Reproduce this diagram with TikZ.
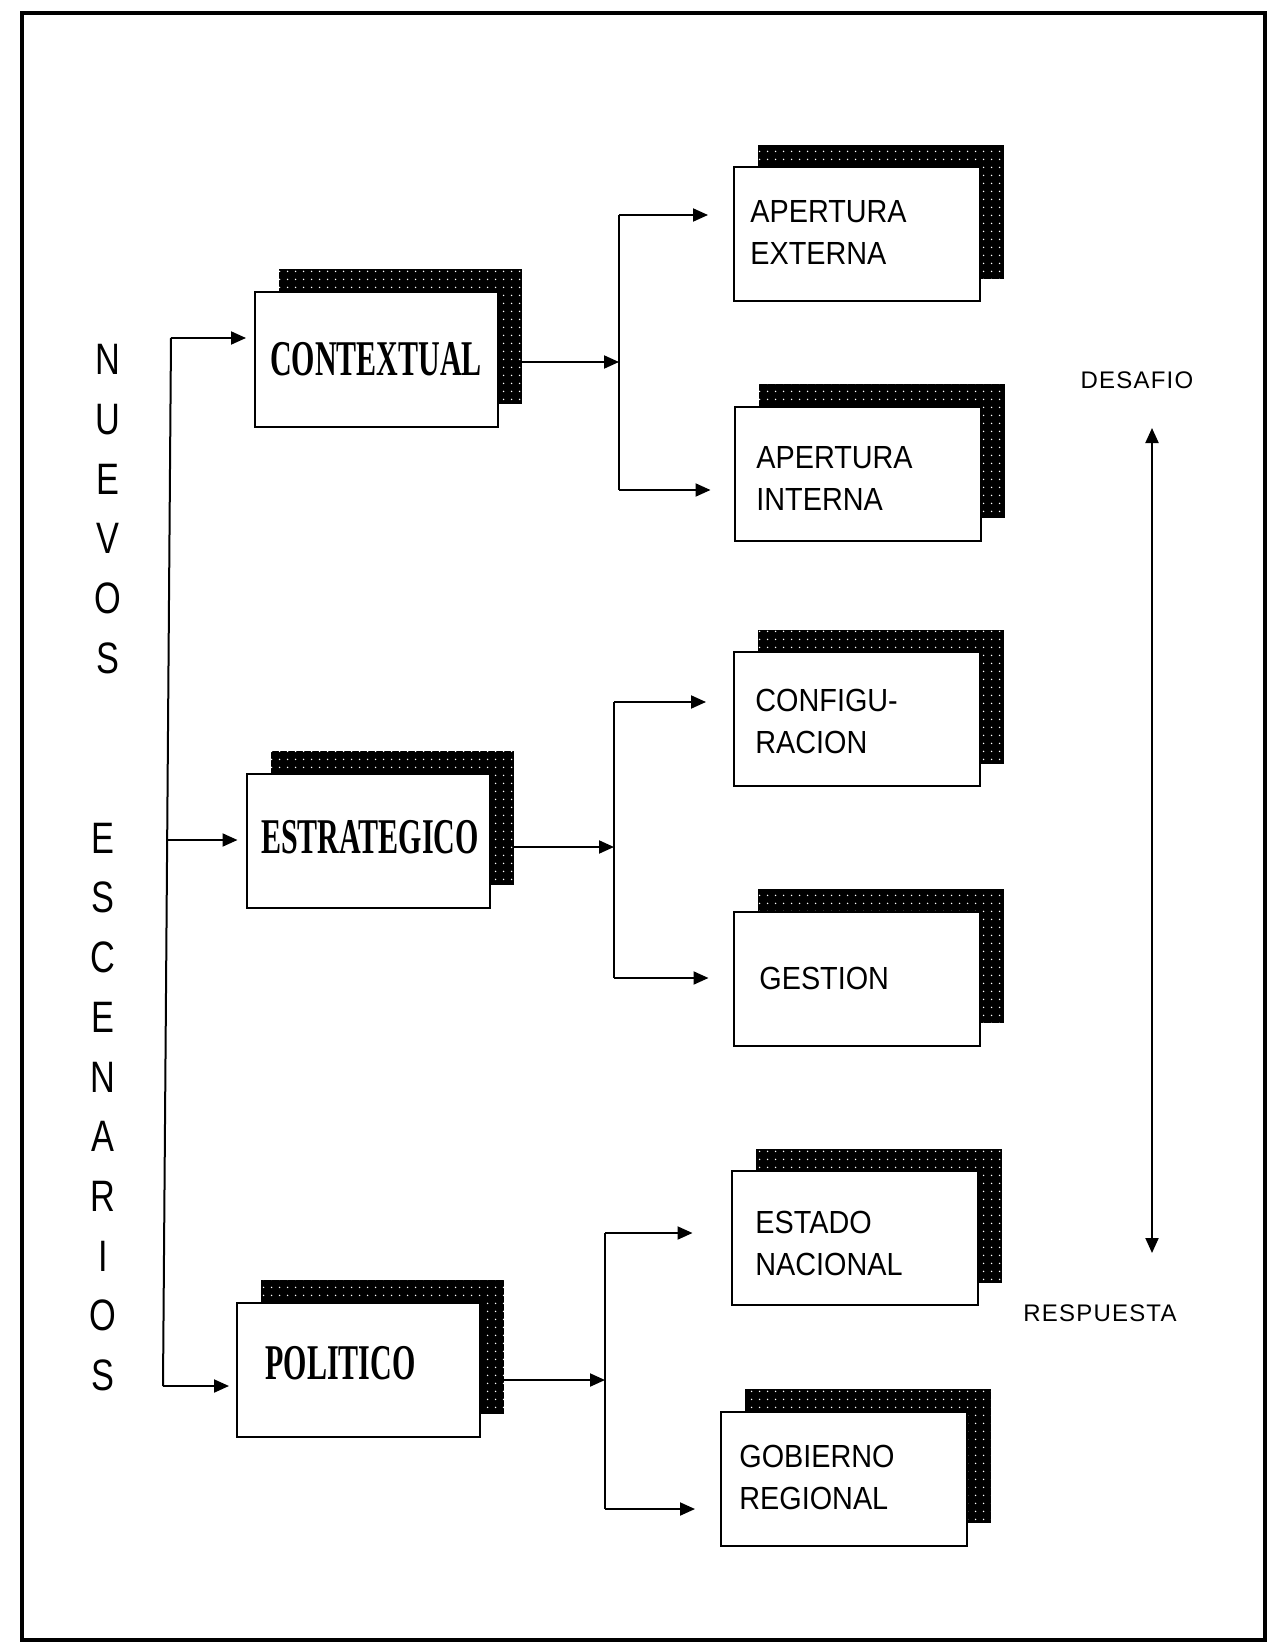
\documentclass[tikz,border=0pt]{standalone}
\usepackage{fontspec}
\setmainfont{Liberation Sans}
\newfontfamily\titlefont[FakeStretch=0.6]{Liberation Serif}
\newfontfamily\labfont[FakeStretch=0.9]{Liberation Sans}
\newfontfamily\vertfont[FakeStretch=0.78]{Liberation Sans}
\newfontfamily\sidefont[LetterSpace=5]{Liberation Sans}
\usetikzlibrary{arrows.meta,patterns.meta}
\tikzset{
  conn/.style={line width=1pt},
  arr/.style={line width=1pt,-{Triangle[length=7.5pt,width=6.5pt]}},
  darr/.style={line width=1pt,{Triangle[length=7.5pt,width=6.5pt]}-{Triangle[length=7.5pt,width=6.5pt]}},
  frontL/.style={draw,line width=1pt,fill=white,minimum width=121.5pt,minimum height=67pt,inner sep=0pt},
  frontR/.style={draw,line width=1pt,fill=white,minimum width=123pt,minimum height=67pt,inner sep=0pt},
  shadowL/.style={preaction={fill=black},pattern={Dots[distance=4pt,radius=0.45pt]},pattern color=white,minimum width=121.5pt,minimum height=67pt,inner sep=0pt},
  shadowR/.style={preaction={fill=black},pattern={Dots[distance=4pt,radius=0.45pt]},pattern color=white,minimum width=123pt,minimum height=67pt,inner sep=0pt},
  title/.style={inner sep=0pt,font=\titlefont\bfseries\fontsize{25}{25}\selectfont},
  lab/.style={anchor=west,inner sep=0pt,align=left,font=\labfont\fontsize{16}{21}\selectfont},
  vert/.style={inner sep=0pt,align=center,font=\vertfont\fontsize{22}{29.85}\selectfont},
  side/.style={inner sep=0pt,font=\sidefont\fontsize{12}{14}\selectfont}
}
\begin{document}
\begin{tikzpicture}[x=0.5pt,y=-0.5pt]
\useasboundingbox (0,0) rectangle (1281,1647);
\fill[white] (0,0) rectangle (1281,1647);
\draw[line width=1.8pt] (22,13) rectangle (1265,1640);

% left boxes
\node[shadowL] (ctxS) at (400.5,336.5) {};
\node[frontL] (ctx) at (376.5,359.5) {};
\node[title] (ctxT) at (376,359) {CONTEXTUAL};

\node[shadowL] (estS) at (392,817.5) {};
\node[frontL] (est) at (368,840.5) {};
\node[title] (estT) at (370,837) {ESTRATEGICO};

\node[shadowL] (polS) at (382.5,1346.5) {};
\node[frontL] (pol) at (358.5,1369.5) {};
\node[title,anchor=west] (polT) at (265,1363) {POLITICO};

% right boxes
\node[shadowR] (aeS) at (881,212) {};
\node[frontR] (ae) at (857,234.5) {};
\node[lab] (aeT) at (750,232) {APERTURA\\EXTERNA};

\node[shadowR] (aiS) at (881.5,451) {};
\node[frontR] (ai) at (857.5,473.5) {};
\node[lab] (aiT) at (756,478.5) {APERTURA\\INTERNA};

\node[shadowR] (cfS) at (881,696.5) {};
\node[frontR] (cf) at (857,719) {};
\node[lab] (cfT) at (755,721.5) {CONFIGU-\\RACION};

\node[shadowR] (geS) at (880.5,956) {};
\node[frontR] (ge) at (856.5,978.5) {};
\node[lab] (geT) at (759,978) {GESTION};

\node[shadowR] (enS) at (878.5,1215.5) {};
\node[frontR] (en) at (854.5,1238) {};
\node[lab] (enT) at (755,1243.5) {ESTADO\\NACIONAL};

\node[shadowR] (grS) at (868,1456) {};
\node[frontR] (gr) at (844,1478.5) {};
\node[lab] (grT) at (739,1477.5) {GOBIERNO\\REGIONAL};

% vertical words
\node[vert] (nuevos) at (108,509) {N\\U\\E\\V\\O\\S};
\node[vert] (escen) at (103,1107) {E\\S\\C\\E\\N\\A\\R\\I\\O\\S};

% side labels
\node[side] (des) at (1137,380) {DESAFIO};
\node[side] (res) at (1100,1313) {RESPUESTA};
\coordinate (dA) at (1152,428);
\coordinate (dB) at (1152,1253);
\draw[darr] (dA) -- (dB);

% left trunk
\coordinate (T1) at (171,338);
\coordinate (T2) at (167,840);
\coordinate (T3) at (163,1386);
\draw[conn] (T1) -- (T3);
\draw[arr,shorten >=4pt] (T1) -- (T1 -| ctx.west);
\draw[arr,shorten >=4pt] (T2) -- (T2 -| est.west);
\draw[arr,shorten >=3.5pt] (T3) -- (T3 -| pol.west);

% contextual branch
\coordinate (C0) at (619,362);
\coordinate (C1) at (619,215);
\coordinate (C2) at (619,490);
\draw[arr] (C0 -| ctxS.east) -- (C0);
\draw[conn] (C1) -- (C2);
\draw[arr,shorten >=12.5pt] (C1) -- (C1 -| ae.west);
\draw[arr,shorten >=11.5pt] (C2) -- (C2 -| ai.west);

% estrategico branch
\coordinate (E0) at (614,847);
\coordinate (E1) at (614,702);
\coordinate (E2) at (614,978);
\draw[arr] (E0 -| estS.east) -- (E0);
\draw[conn] (E1) -- (E2);
\draw[arr,shorten >=13.5pt] (E1) -- (E1 -| cf.west);
\draw[arr,shorten >=12pt] (E2) -- (E2 -| ge.west);

% politico branch
\coordinate (P0) at (605,1380);
\coordinate (P1) at (605,1233);
\coordinate (P2) at (605,1509);
\draw[arr] (P0 -| polS.east) -- (P0);
\draw[conn] (P1) -- (P2);
\draw[arr,shorten >=19pt] (P1) -- (P1 -| en.west);
\draw[arr,shorten >=12.5pt] (P2) -- (P2 -| gr.west);
\end{tikzpicture}
\end{document}
